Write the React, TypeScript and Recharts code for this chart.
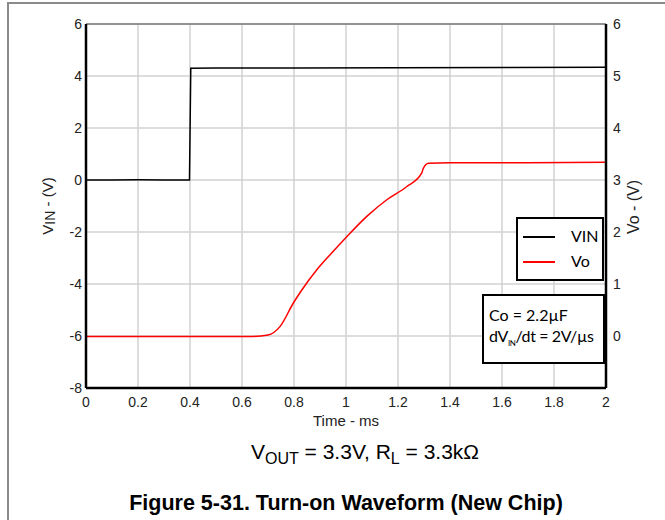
import { LineChart, Line, XAxis, YAxis, CartesianGrid, ReferenceLine } from "recharts";

// time in ms
const vinTime = [0, 0.1, 0.2, 0.3, 0.398, 0.403, 0.5, 0.8, 1.2, 1.6, 2.0];
// VIN in volts (left axis)
const vinValue = [0, 0.0, 0.01, 0.0, 0.0, 4.3, 4.31, 4.31, 4.32, 4.33, 4.34];

const voTime = [0, 0.2, 0.4, 0.63, 0.7, 0.746, 0.797, 0.83, 0.887, 0.938, 1.003, 1.08, 1.157, 1.233, 1.291, 1.297, 1.317, 1.4, 1.7, 2.0];
// Vo in volts (right axis)
const voValue = [-0.01, -0.01, -0.01, -0.01, 0.02, 0.18, 0.63, 0.885, 1.27, 1.56, 1.91, 2.3, 2.62, 2.87, 3.13, 3.22, 3.32, 3.33, 3.33, 3.34];

const xTicks = [0, 0.2, 0.4, 0.6, 0.8, 1, 1.2, 1.4, 1.6, 1.8, 2];
const leftTicks = [-8, -6, -4, -2, 0, 2, 4, 6];
const rightTicks = [0, 1, 2, 3, 4, 5, 6];

const vinData = vinTime.map((t, i) => ({ t, v: vinValue[i] }));
const voData = voTime.map((t, i) => ({ t, v: voValue[i] }));

const font = "'Liberation Sans', Arial, sans-serif";
const boxFont = "Lato, 'Open Sans', sans-serif";

function Tick({ x, y, payload, anchor, dy }: any) {
  return (
    <text x={x} y={y} dy={dy} textAnchor={anchor} fontSize={14} fontFamily={font} fill="#222">
      {payload.value}
    </text>
  );
}

export default function App() {
  return (
    <div
      style={{
        position: "absolute",
        left: 0,
        top: 0,
        width: 665,
        height: 520,
        overflow: "hidden",
        background: "#fff",
        fontFamily: font,
      }}
    >
      <div
        style={{
          position: "absolute",
          left: 7,
          top: 2,
          width: 700,
          height: 600,
          borderLeft: "2px solid #8a8a8a",
          borderTop: "2px solid #8a8a8a",
        }}
      />
      <div style={{ position: "absolute", left: 0, top: 0 }}>
        <LineChart width={665} height={520} margin={{ top: 24, right: 19, left: 46, bottom: 102 }}>
          <CartesianGrid yAxisId="left" stroke="#d2d2d2" strokeWidth={1.5} />
          <XAxis
            dataKey="t"
            type="number"
            domain={[0, 2]}
            ticks={xTicks}
            allowDuplicatedCategory={false}
            tick={(p: any) => <Tick {...p} anchor="middle" dy={11} />}
            tickLine={false}
            tickSize={0}
            tickMargin={8}
            height={30}
            axisLine={{ stroke: "#000", strokeWidth: 2.5 }}
          />
          <YAxis
            yAxisId="left"
            domain={[-8, 6]}
            ticks={leftTicks}
            tick={(p: any) => <Tick {...p} anchor="end" dy={5} />}
            tickLine={false}
            tickSize={0}
            tickMargin={4}
            width={40}
            axisLine={{ stroke: "#000", strokeWidth: 2.5 }}
          />
          <YAxis
            yAxisId="right"
            orientation="right"
            domain={[-1, 6]}
            ticks={rightTicks}
            tick={(p: any) => <Tick {...p} anchor="start" dy={5} />}
            tickLine={false}
            tickSize={0}
            tickMargin={7}
            width={40}
            axisLine={{ stroke: "#000", strokeWidth: 2.5 }}
          />
          <ReferenceLine yAxisId="left" y={6} stroke="#7a7a7a" strokeWidth={1.5} />
          <Line
            yAxisId="left"
            data={vinData}
            dataKey="v"
            type="linear"
            stroke="#000"
            strokeWidth={1.5}
            dot={false}
            isAnimationActive={false}
          />
          <Line
            yAxisId="right"
            data={voData}
            dataKey="v"
            type="monotone"
            stroke="#ff0000"
            strokeWidth={1.5}
            dot={false}
            isAnimationActive={false}
          />
        </LineChart>
      </div>

      {/* left axis label */}
      <div
        style={{
          position: "absolute",
          left: 47,
          top: 206,
          transform: "translate(-50%, -50%) rotate(-90deg)",
          whiteSpace: "nowrap",
          fontSize: 15,
          color: "#222",
        }}
      >
        V<span style={{ fontSize: 14, position: "relative", top: 2 }}>IN</span> - (V)
      </div>
      {/* right axis label */}
      <div
        style={{
          position: "absolute",
          left: 634,
          top: 207,
          transform: "translate(-50%, -50%) rotate(-90deg)",
          whiteSpace: "nowrap",
          fontSize: 16,
          color: "#222",
        }}
      >
        Vo - (V)
      </div>
      {/* x axis label */}
      <div
        style={{
          position: "absolute",
          left: 346,
          top: 420,
          transform: "translate(-50%, -50%)",
          whiteSpace: "nowrap",
          fontSize: 15,
          color: "#222",
        }}
      >
        Time - ms
      </div>

      {/* legend */}
      <div
        style={{
          position: "absolute",
          left: 516,
          top: 217,
          width: 84,
          height: 60,
          border: "2px solid #000",
          background: "#fff",
          fontFamily: boxFont,
          fontSize: 16,
          color: "#000",
        }}
      >
        <div style={{ position: "absolute", left: 5, top: 17, width: 32, height: 1.5, background: "#000" }} />
        <div style={{ position: "absolute", left: 53, top: 7 }}>VIN</div>
        <div style={{ position: "absolute", left: 5, top: 42, width: 32, height: 1.5, background: "#ff0000" }} />
        <div style={{ position: "absolute", left: 53, top: 32 }}>Vo</div>
      </div>

      {/* annotation */}
      <div
        style={{
          position: "absolute",
          left: 482,
          top: 294,
          width: 119,
          height: 66,
          border: "2px solid #000",
          background: "#fff",
          fontFamily: boxFont,
          fontSize: 16,
          color: "#000",
        }}
      >
        <div style={{ position: "absolute", left: 5, top: 9, whiteSpace: "nowrap" }}>Co = 2.2µF</div>
        <div style={{ position: "absolute", left: 5, top: 30, whiteSpace: "nowrap", letterSpacing: -0.4 }}>
          dV<span style={{ fontSize: 8, position: "relative", top: 4 }}>IN</span>/dt = 2V/µs
        </div>
      </div>

      {/* condition line */}
      <div
        style={{
          position: "absolute",
          left: 365,
          top: 452,
          transform: "translate(-50%, -50%)",
          whiteSpace: "nowrap",
          fontSize: 21,
          color: "#000",
        }}
      >
        V<span style={{ fontSize: 16, position: "relative", top: 5 }}>OUT</span> = 3.3V, R
        <span style={{ fontSize: 16, position: "relative", top: 5 }}>L</span> = 3.3kΩ
      </div>

      {/* title */}
      <div
        style={{
          position: "absolute",
          left: 346,
          top: 503,
          transform: "translate(-50%, -50%)",
          whiteSpace: "nowrap",
          fontSize: 21.5,
          fontWeight: "bold",
          color: "#000",
        }}
      >
        Figure 5-31. Turn-on Waveform (New Chip)
      </div>
    </div>
  );
}
